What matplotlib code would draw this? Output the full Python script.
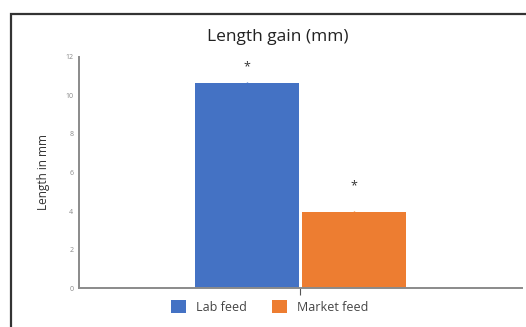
import matplotlib
matplotlib.use("Agg")
import matplotlib.pyplot as plt
from matplotlib.patches import Rectangle, Patch

series = ["Lab feed", "Market feed"]
values = [10.65, 3.95]
errors = [0.04, 0.04]
stars = ["*", "*"]
star_heights = [11.5, 5.3]
colors = ["#4472C4", "#ED7D31"]
yticks = [0, 2, 4, 6, 8, 10, 12]

plt.rcParams["font.family"] = ["Open Sans", "DejaVu Sans"]

fig = plt.figure(figsize=(5.26, 3.27), dpi=100)
ax = fig.add_axes([0.150, 0.119, 0.842, 0.707])

# outer frame (left and top edges show)
fig.patches.append(Rectangle((0.021, -0.05), 1.2, 1.007, transform=fig.transFigure,
                             fill=False, edgecolor="#333333", linewidth=1.6))

width = 0.235
offsets = [-width / 2 - 0.003, width / 2 + 0.003]
for name, v, e, c, off, s, sy in zip(series, values, errors, colors, offsets, stars, star_heights):
    ax.bar(off, v, width, color=c, label=name, yerr=e,
           error_kw=dict(ecolor=c, capsize=0, elinewidth=1))
    ax.text(off, sy, s, ha="center", va="center", fontsize=9, color="#333333")

ax.set_xlim(-0.5, 0.5)
ax.set_ylim(0, 12)
ax.set_yticks(yticks)
ax.set_yticklabels([str(t) for t in yticks], fontsize=5, color="#888888")
ax.tick_params(axis="y", length=0, pad=4)
ax.set_xticks([0])
ax.set_xticklabels([""])
ax.tick_params(axis="x", length=5, width=0.8, color="#555555", direction="out")

for sp in ["top", "right"]:
    ax.spines[sp].set_visible(False)
for sp in ["left", "bottom"]:
    ax.spines[sp].set_color("#8a8a8a")
    ax.spines[sp].set_linewidth(1.4)

ax.set_ylabel("Length in mm", fontsize=8.5, color="#333333", labelpad=11)
fig.text(0.528, 0.887, "Length gain (mm)", ha="center", va="center",
         fontsize=12.5, color="#222222")

handles = [Patch(facecolor=c, label=n) for n, c in zip(series, colors)]
fig.legend(handles=handles, loc="center", bbox_to_anchor=(0.512, 0.062), ncol=2,
           frameon=False, fontsize=9, handlelength=1.2, handleheight=1.2,
           columnspacing=2.0, handletextpad=0.8, labelcolor="#444444")

fig.savefig("out.png", dpi=100)
